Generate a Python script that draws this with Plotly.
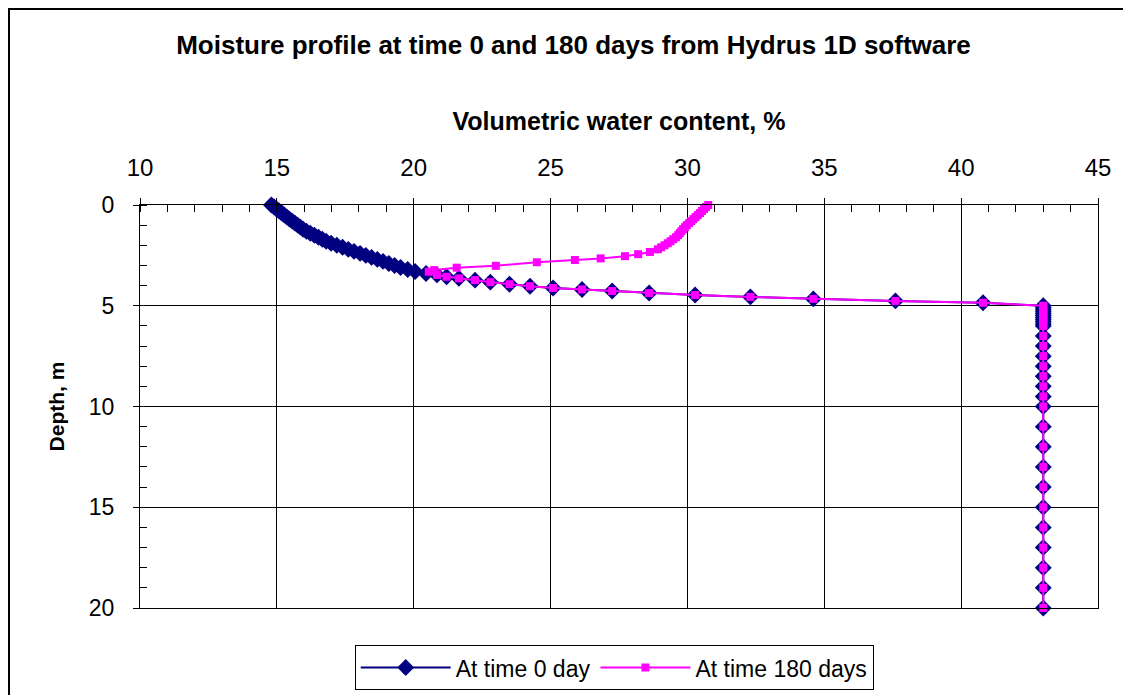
import plotly.graph_objects as go

# ---------------- data ----------------
# Shared lower part of both profiles (wetting front and saturated zone)
shared_depth = [3.47, 3.56, 3.64, 3.73, 3.83, 3.93, 4.03, 4.12, 4.19, 4.27, 4.37, 4.47,
                4.56, 4.66, 4.76, 4.85, 5.0, 5.1, 5.2, 5.3, 5.4, 5.5, 5.6, 5.7, 5.8,
                5.9, 6.0, 6.5, 7.0, 7.5, 8.0, 8.5, 9.0, 9.5, 10.0, 11.0, 12.0, 13.0,
                14.0, 15.0, 16.0, 17.0, 18.0, 19.0, 20.0]
shared_wc = [20.85, 21.2, 21.65, 22.24, 22.8, 23.5, 24.25, 25.09, 26.15, 27.25, 28.6, 30.28,
             32.3, 34.6, 37.6, 40.8, 43.0, 43.0, 43.0, 43.0, 43.0, 43.0, 43.0, 43.0, 43.0,
             43.0, 43.0, 43.0, 43.0, 43.0, 43.0, 43.0, 43.0, 43.0, 43.0, 43.0, 43.0, 43.0,
             43.0, 43.0, 43.0, 43.0, 43.0, 43.0, 43.0]

# Upper part, time 0 day
t0_depth_top = [0.0, 0.1, 0.2, 0.3, 0.4, 0.5, 0.6, 0.7, 0.8, 0.9, 1.0, 1.1, 1.2, 1.3,
                1.4, 1.5, 1.6, 1.7, 1.8, 1.9, 2.0, 2.1, 2.2, 2.3, 2.4, 2.5, 2.6, 2.7,
                2.8, 2.9, 3.0, 3.1, 3.2, 3.3, 3.4]
t0_wc_top = [14.80, 14.90, 14.99, 15.08, 15.18, 15.27, 15.37, 15.46, 15.56, 15.66, 15.76,
             15.86, 15.96, 16.08, 16.22, 16.37, 16.52, 16.66, 16.80, 16.98, 17.19, 17.40,
             17.61, 17.82, 18.04, 18.25, 18.46, 18.67, 18.88, 19.09, 19.30, 19.52, 19.78,
             20.05, 20.45]

# Upper part, time 180 days
t180_depth_top = [0.0, 0.1, 0.2, 0.3, 0.4, 0.5, 0.6, 0.7, 0.8, 0.9, 1.0, 1.1, 1.2, 1.3,
                  1.4, 1.5, 1.6, 1.7, 1.8, 1.9, 2.0, 2.1, 2.2, 2.33, 2.44, 2.54, 2.65,
                  2.73, 2.84, 3.02, 3.11, 3.23, 3.31]
t180_wc_top = [30.76, 30.68, 30.61, 30.53, 30.46, 30.38, 30.30, 30.22, 30.14, 30.06, 29.98,
               29.91, 29.84, 29.78, 29.72, 29.66, 29.58, 29.48, 29.38, 29.28, 29.16, 29.04,
               28.92, 28.63, 28.20, 27.72, 26.83, 25.89, 24.50, 23.00, 21.57, 20.75, 20.55]

depth_t0 = t0_depth_top + shared_depth
wc_t0 = t0_wc_top + shared_wc
depth_t180 = t180_depth_top + shared_depth
wc_t180 = t180_wc_top + shared_wc

series_names = ["At time 0 day", "At time 180 days"]
x_ticks = [10, 15, 20, 25, 30, 35, 40, 45]
y_ticks = [0, 5, 10, 15, 20]

FONT = "Liberation Sans, Arial, sans-serif"

fig = go.Figure()
fig.add_trace(go.Scatter(
    x=wc_t0, y=depth_t0, name=series_names[0], mode="lines+markers",
    line=dict(color="#000080", width=2),
    marker=dict(symbol="diamond", size=13, color="#000080"),
    cliponaxis=False,
))
fig.add_trace(go.Scatter(
    x=wc_t180, y=depth_t180, name=series_names[1], mode="lines+markers",
    line=dict(color="#FF00FF", width=2),
    marker=dict(symbol="square", size=8, color="#FF00FF"),
    cliponaxis=False,
))

fig.update_layout(
    width=1131, height=695,
    margin=dict(l=132, r=41, t=197, b=95, autoexpand=False),
    paper_bgcolor="white", plot_bgcolor="white",
    font=dict(family=FONT, color="black", size=22),
    title=dict(text="Moisture profile at time 0 and 180 days from Hydrus 1D software",
               x=0.5, xanchor="center", y=1 - 37 / 695, yanchor="middle",
               font=dict(family=FONT, size=26, weight="bold", color="black")),
    showlegend=True,
    legend=dict(orientation="h", x=0.495, xanchor="center", y=-0.092, yanchor="top",
                bordercolor="black", borderwidth=1, bgcolor="white",
                itemwidth=90,
                font=dict(family=FONT, size=23)),
)

fig.update_xaxes(
    side="top", range=[10, 45], tickvals=x_ticks,
    showline=True, linecolor="black", linewidth=1, mirror=True,
    showgrid=True, gridcolor="#000000", gridwidth=1, zeroline=False,
    ticks="outside", ticklen=6, tickcolor="black", ticklabelstandoff=12,
    tickfont=dict(family=FONT, size=24),
    minor=dict(dtick=1, ticks="inside", ticklen=7, tickcolor="black", showgrid=False),
    title=dict(text="Volumetric water content, %", standoff=16,
               font=dict(family=FONT, size=25, weight="bold")),
)
fig.update_yaxes(
    range=[20, 0], tickvals=y_ticks,
    showline=True, linecolor="black", linewidth=1, mirror=True,
    showgrid=True, gridcolor="#000000", gridwidth=1, zeroline=False,
    ticks="outside", ticklen=6, tickcolor="black", ticklabelstandoff=14,
    tickfont=dict(family=FONT, size=23),
    minor=dict(dtick=1, ticks="inside", ticklen=7, tickcolor="black", showgrid=False),
    title=dict(text="Depth, m", standoff=18,
               font=dict(family=FONT, size=21, weight="bold")),
)

# outer chart border
fig.add_shape(type="rect", xref="paper", yref="paper",
              x0=(1 - 132) / 958, x1=(1125 - 132) / 958,
              y0=-0.3, y1=(600 - 1) / 403,
              line=dict(color="black", width=2), layer="below")

fig.write_html("out.html")
